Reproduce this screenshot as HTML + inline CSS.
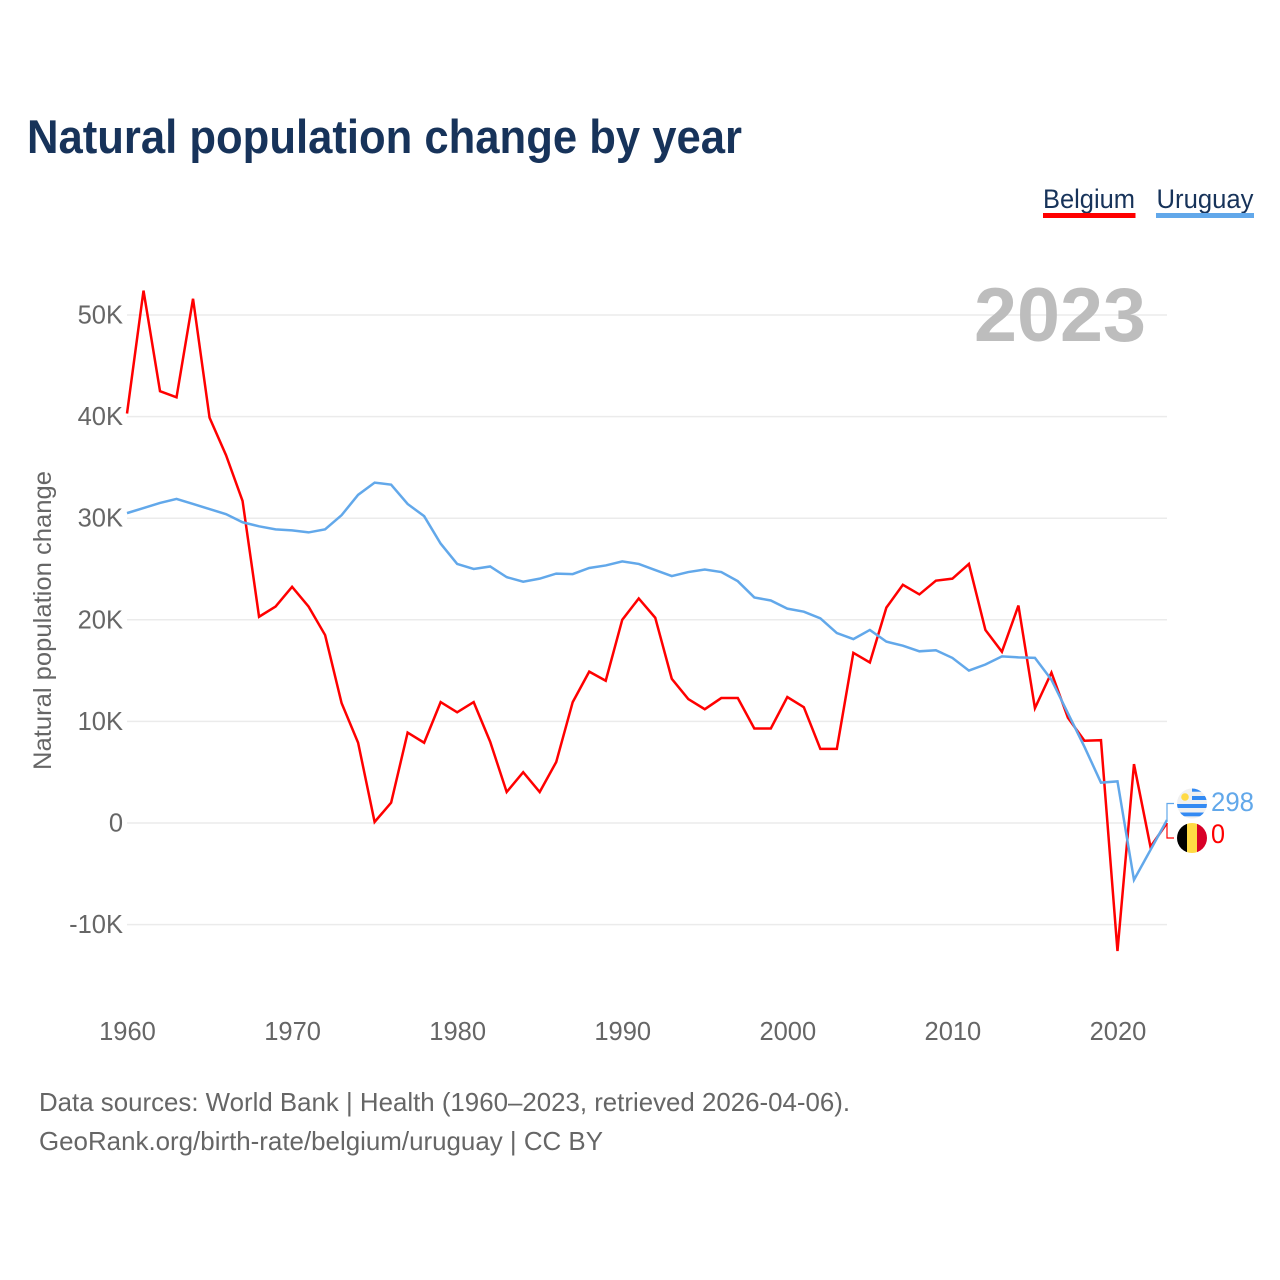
<!DOCTYPE html>
<html lang="en">
<head>
<meta charset="utf-8">
<title>Natural population change by year</title>
<style>
html,body{margin:0;padding:0;background:#fff;}
#chart{display:block;width:1280px;height:1280px;font-family:"Liberation Sans",Arial,sans-serif;}
</style>
</head>
<body>
<svg id="chart" xmlns="http://www.w3.org/2000/svg" width="1280" height="1280" viewBox="0 0 1280 1280">
  <rect x="0" y="0" width="1280" height="1280" fill="#ffffff"/>
  <text x="27" y="153" font-size="47" font-weight="700" fill="#17335a" textLength="715" lengthAdjust="spacingAndGlyphs">Natural population change by year</text>

  <g>
    <g>
      <text x="1043" y="208" font-size="27" fill="#17335a" textLength="92" lengthAdjust="spacingAndGlyphs">Belgium</text>
      <rect x="1043" y="213" width="92.5" height="5" fill="#ff0000"/>
    </g>
    <g>
      <text x="1156.5" y="208" font-size="27" fill="#17335a" textLength="97" lengthAdjust="spacingAndGlyphs">Uruguay</text>
      <rect x="1156" y="213" width="98" height="5" fill="#62a8ea"/>
    </g>
  </g>

  <g id="grid"></g>
  <text x="1146" y="341" text-anchor="end" font-size="76" font-weight="700" fill="#bdbdbd" textLength="172" lengthAdjust="spacingAndGlyphs">2023</text>
  <g id="y-ticks"></g>
  <g id="x-ticks"></g>
  <text transform="translate(51 770) rotate(-90)" x="0" y="0" font-size="25" fill="#666666" textLength="299" lengthAdjust="spacingAndGlyphs">Natural population change</text>

  <g id="series"></g>
  <g id="connectors"></g>

  <defs>
    <clipPath id="clip-uy"><circle cx="1192" cy="803.5" r="15"/></clipPath>
    <clipPath id="clip-be"><circle cx="1192" cy="838" r="15"/></clipPath>
  </defs>
  <g clip-path="url(#clip-uy)">
    <rect x="1177" y="788" width="30" height="31" fill="#f0f0f0"/>
    <rect x="1192" y="788.5" width="15" height="3.2" fill="#338af3"/>
    <rect x="1192" y="796" width="15" height="4" fill="#338af3"/>
    <rect x="1177" y="804" width="30" height="4" fill="#338af3"/>
    <rect x="1177" y="812.5" width="30" height="3.8" fill="#338af3"/>
    <circle cx="1185" cy="797" r="3.8" fill="#ffda44"/>
  </g>
  <g clip-path="url(#clip-be)">
    <rect x="1177" y="823" width="10" height="30" fill="#000000"/>
    <rect x="1187" y="823" width="10" height="30" fill="#ffda44"/>
    <rect x="1197" y="823" width="10" height="30" fill="#d80027"/>
  </g>
  <text id="end-uruguay" x="1211" y="811" font-size="27" fill="#62a8ea" textLength="43" lengthAdjust="spacingAndGlyphs"></text>
  <text id="end-belgium" x="1211" y="843" font-size="27" fill="#ff0000" textLength="14" lengthAdjust="spacingAndGlyphs"></text>

  <text x="39" y="1111" font-size="26" fill="#666666" textLength="811" lengthAdjust="spacingAndGlyphs">Data sources: World Bank | Health (1960–2023, retrieved 2026-04-06).</text>
  <text x="39" y="1150" font-size="26" fill="#666666" textLength="564" lengthAdjust="spacingAndGlyphs">GeoRank.org/birth-rate/belgium/uruguay | CC BY</text>
</svg>

<script>
const startYear = 1960;
const endYear = 2023;
const yTickValues = [50000, 40000, 30000, 20000, 10000, 0, -10000];
const yTickLabels = ["50K", "40K", "30K", "20K", "10K", "0", "-10K"];
const xTickYears = [1960, 1970, 1980, 1990, 2000, 2010, 2020];
const belgiumValues = [40300, 52400, 42500, 41900, 51600, 39900, 36200, 31700, 20300, 21300,
  23250, 21300, 18500, 11800, 7900, 100, 2000, 8900, 7900, 11900,
  10900, 11900, 8000, 3050, 5000, 3050, 6000, 11900, 14900, 14000,
  20000, 22100, 20200, 14200, 12200, 11200, 12300, 12300, 9300, 9300,
  12400, 11400, 7300, 7300, 16750, 15800, 21200, 23450, 22500, 23850,
  24050, 25500, 19000, 16850, 21400, 11300, 14800, 10350, 8100, 8150,
  -12600, 5800, -2350, 0];
const uruguayValues = [30500, 31000, 31500, 31900, 31400, 30900, 30400, 29600, 29200, 28900,
  28800, 28600, 28900, 30300, 32300, 33500, 33300, 31400, 30200, 27500,
  25500, 25000, 25250, 24200, 23750, 24050, 24550, 24500, 25100, 25350,
  25750, 25500, 24900, 24300, 24700, 24950, 24700, 23800, 22200, 21900,
  21100, 20800, 20150, 18700, 18100, 19000, 17850, 17450, 16900, 17000,
  16250, 15000, 15600, 16400, 16300, 16250, 14100, 10800, 7500, 3970,
  4100, -5600, -2650, 298];
const belgiumLatestLabel = "0";
const uruguayLatestLabel = "298";

const SVG_NS = "http://www.w3.org/2000/svg";
const plotLeft = 127;
const plotRight = 1167;
const zeroY = 823;
const pxPerUnit = 0.01016;

function xScale(year) {
  return plotLeft + (year - startYear) * (plotRight - plotLeft) / (endYear - startYear);
}
function yScale(value) {
  return zeroY - value * pxPerUnit;
}
function make(tag, attrs, parent) {
  const el = document.createElementNS(SVG_NS, tag);
  for (const k in attrs) el.setAttribute(k, attrs[k]);
  parent.appendChild(el);
  return el;
}
function seriesPath(values) {
  return values.map(function (v, i) {
    return (i ? "L" : "M") + xScale(startYear + i).toFixed(2) + " " + yScale(v).toFixed(2);
  }).join(" ");
}

const gridGroup = document.getElementById("grid");
const yTickGroup = document.getElementById("y-ticks");
yTickValues.forEach(function (v, i) {
  const line = make("line", {x1: plotLeft, x2: plotRight, y1: yScale(v), y2: yScale(v), stroke: "#ebebeb", "stroke-width": 1.5}, gridGroup);
  
  
  const label = make("text", {x: 123, y: yScale(v) + 8.5, "text-anchor": "end", "font-size": 25.5, fill: "#666666"}, yTickGroup);
  
  
  label.textContent = yTickLabels[i];
});

const xTickGroup = document.getElementById("x-ticks");
xTickYears.forEach(function (year) {
  const label = make("text", {x: xScale(year) + 0.5, y: 1040, "text-anchor": "middle", "font-size": 25.5, fill: "#666666"}, xTickGroup);
  
  
  label.textContent = String(year);
});

const seriesGroup = document.getElementById("series");
const belgiumLine = make("path", {d: seriesPath(belgiumValues), fill: "none", stroke: "#ff0000", "stroke-width": 2.5, "stroke-linejoin": "miter"}, seriesGroup);


const uruguayLine = make("path", {d: seriesPath(uruguayValues), fill: "none", stroke: "#62a8ea", "stroke-width": 2.5, "stroke-linejoin": "miter"}, seriesGroup);



const connectorGroup = document.getElementById("connectors");
const lastX = xScale(endYear);
const belgiumConnector = make("path", {d: "M" + lastX + " " + yScale(belgiumValues[belgiumValues.length - 1]) + " V838 H1174", fill: "none", stroke: "#ff0000", "stroke-width": 1.2}, connectorGroup);


const uruguayConnector = make("path", {d: "M" + lastX + " " + yScale(uruguayValues[uruguayValues.length - 1]) + " V803.5 H1174", fill: "none", stroke: "#62a8ea", "stroke-width": 1.2}, connectorGroup);



document.getElementById("end-uruguay").textContent = uruguayLatestLabel;
document.getElementById("end-belgium").textContent = belgiumLatestLabel;
</script>
</body>
</html>
